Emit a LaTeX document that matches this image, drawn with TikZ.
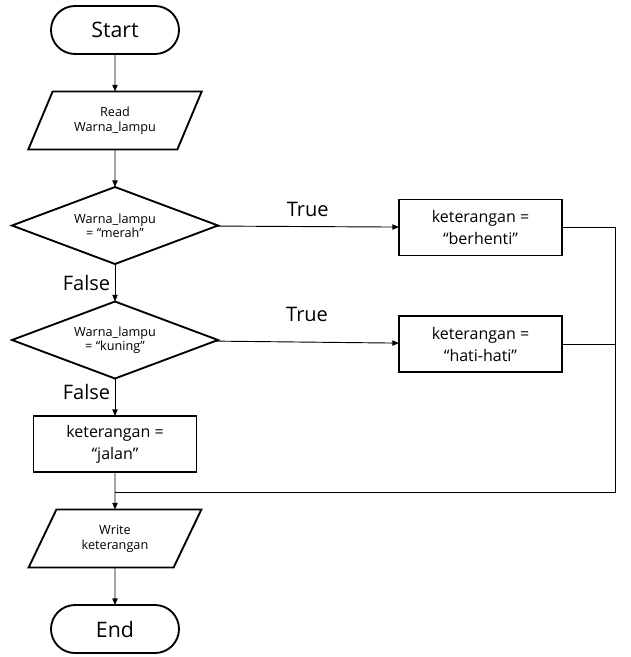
\documentclass[tikz,border=0pt]{standalone}
\usepackage{fontspec}
\setmainfont{Open Sans}
\usetikzlibrary{arrows.meta,positioning,shapes.geometric}

\begin{document}
\begin{tikzpicture}[x=0.75pt,y=-0.75pt,>={Triangle[length=5pt,width=4pt]},node distance=28.125pt,
  shapeline/.style={draw,line width=1.4pt,align=center,inner sep=0pt,outer sep=0pt},
  terminal/.style={shapeline,rectangle,rounded corners=18pt,minimum width=96pt,minimum height=36pt,font=\fontsize{16}{19}\selectfont},
  io/.style={shapeline,trapezium,trapezium left angle=60,trapezium right angle=120,trapezium stretches=true,minimum width=130.5pt,minimum height=43.5pt,font=\fontsize{9.5}{11.25}\selectfont},
  decision/.style={shapeline,diamond,aspect=2.675,minimum width=154.5pt,minimum height=57.75pt,font=\fontsize{9.5}{10.5}\selectfont},
  process/.style={shapeline,rectangle,minimum width=122.25pt,minimum height=42pt,font=\fontsize{12}{16.5}\selectfont},
  flow/.style={->,line width=0.7pt},
  branch/.style={font=\fontsize{15}{17}\selectfont}]
\useasboundingbox (0,0) rectangle (631,657);
\node[terminal] (start) at (115,30) {Start};
\node[io,below=of start] (read) {Read\\Warna\_lampu};
\node[decision,below=of read] (d1) {Warna\_lampu\\= “merah”};
\node[decision,below=of d1] (d2) {Warna\_lampu\\= “kuning”};
\node[process,below=of d2] (jalan) {keterangan =\\“jalan”};
\node[io,below=of jalan] (write) {Write\\keterangan};
\node[terminal,below=of write] (end) {End};
\node[process,right=135.75pt of d1,yshift=-1.5pt] (b1) {keterangan =\\“berhenti”};
\node[process,right=135.75pt of d2,yshift=-3pt] (b2) {keterangan =\\“hati-hati”};
\coordinate (rail) at (615,492);
\coordinate (join) at (jalan.south |- rail);
\draw[flow] (start) -- (read);
\draw[flow] (read) -- (d1);
\draw[flow] (d1) -- node[left,branch] {False} (d2);
\draw[flow] (d2) -- node[left,branch,pos=0.35] {False} (jalan);
\draw[flow] (jalan) -- (write);
\draw[flow] (write) -- (end);
\draw[flow] (d1) -- node[above=4pt,branch] {True} (b1);
\draw[flow] (d2) -- node[above=11.5pt,branch] {True} (b2);
\draw[line width=0.7pt] (b1) -| (rail) -- (join);
\draw[line width=0.7pt] (b2) -- (b2 -| rail);
\end{tikzpicture}
\end{document}
